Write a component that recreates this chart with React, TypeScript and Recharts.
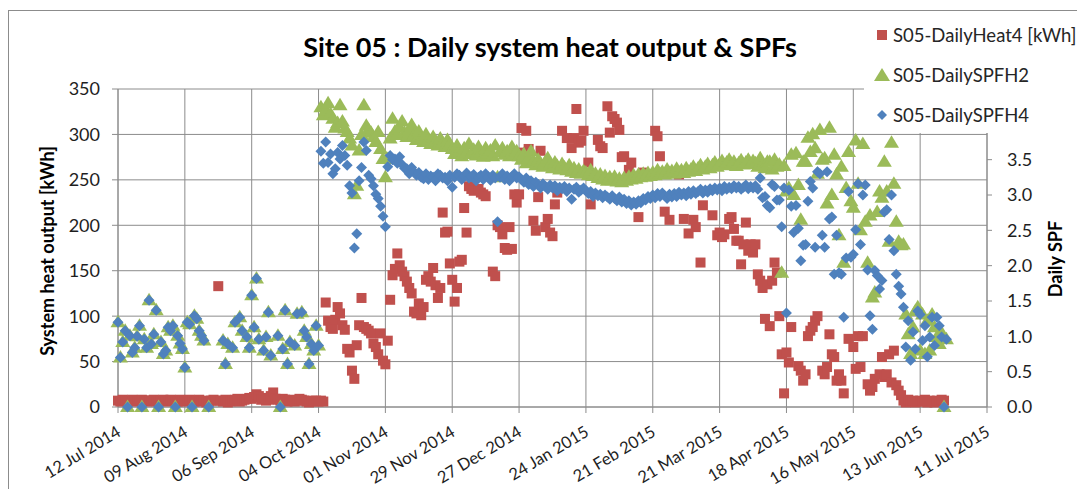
import { ScatterChart, Scatter, XAxis, YAxis, CartesianGrid } from "recharts";

const DAY = 86400000;
const START = Date.UTC(2014, 6, 12);
const _ = null;

const RED = "#C0504D";
const GREEN = "#9BBB59";
const BLUE = "#4F81BD";
const GRID = "#8c8c8c";
const TEXT = "#1e1e1e";
const FONT = "Lato, 'Open Sans', Arial, sans-serif";

const xTickLabels = [
  "12 Jul 2014", "09 Aug 2014", "06 Sep 2014", "04 Oct 2014", "01 Nov 2014",
  "29 Nov 2014", "27 Dec 2014", "24 Jan 2015", "21 Feb 2015", "21 Mar 2015",
  "18 Apr 2015", "16 May 2015", "13 Jun 2015", "11 Jul 2015",
];
const heatTicks = [0, 50, 100, 150, 200, 250, 300, 350];
const spfTicks = [0, 0.5, 1, 1.5, 2, 2.5, 3, 3.5, 4, 4.5];

// one value per day from 12 Jul 2014, one line per 28-day block
const dailyHeat4: (number | null)[] = [
  7, 6, 8, 7, 6, 7, 8, 7, 6, 7, 8, 7, 6, 7, 7, 8, 6, 7, 7, 8, 6, 7, 8, 7, 7, 6, 8, 7,
  6, 7, 8, 7, 6, 7, 8, 6, 7, 5, 6, 7, 8, 7, 133, 7, 6, 8, 5, 6, 7, 8, 9, 6, 7, 8, 9, 10,
  9, 11, 14, 12, 8, 10, 7, 8, 12, 16, 9, 8, 7, 9, 8, 6, 7, 8, 6, 7, 9, 8, 7, 6, 5, 7, 6, 7,
  6, 7, 6, 115, 95, 88, 86, 96, 110, 103, 90, 85, 64, 60, 40, 31, 68, 90, 120, 88, 86, 84, 81, 70, 66, 58, 81, 51,
  47, 73, 118, 145, 152, 169, 156, 149, 144, 138, 131, 125, 105, 103, 114, 101, 110, 140, 144, 138, 153, 134, 120, 131, 214, 192, 193, 158,
  140, 116, 131, 160, 162, 219, 192, 243, 240, 238, _, 240, 236, 234, 232, _, _, 149, 144, 200, 198, 190, 175, 173, 198, 174, 234, 225,
  234, 307, 280, 304, 284, _, 205, 194, 231, 282, _, 198, 207, 192, 188, 223, 236, _, 304, _, 296, _, 285, 296, 328, 291, 293, 304,
  _, 269, 223, _, _, 294, 287, 285, _, 331, 302, 320, 317, 313, 305, 275, 276, _, 261, 269, _, _, 209, _, 258, _, _, _,
  _, 304, 298, 276, _, 215, _, 206, _, _, _, 256, _, 207, _, 191, _, 206, 198, _, 159, 222, _, _, _, 211, _, 189,
  192, 187, 190, _, 207, 209, 196, 183, 183, 157, 179, 203, 172, 179, 170, 179, 146, 139, 131, 97, 135, 89, 139, 159, 148, 100, 58, 15,
  60, 49, 88, _, _, 45, 40, 29, 36, 78, 84, 88, 95, 100, _, 40, 36, 44, 80, 58, 55, 29, 36, 29, 15, _, 75, _,
  66, 42, 78, 44, 78, _, 25, 18, 22, 31, _, 36, 55, 33, 36, 58, 27, 62, 24, 18, 13, 7, 5, 8, 6, 7, 5, 6,
  7, 6, 8, 5, 7, 6, 5, 7, 6, 8, 7,
];

// summer days (12 Jul - 3 Oct 2014): both SPFs read the same
const summerSpf: (number | null)[] = [
  1.2, 0.7, 0.92, 1.08, 0, 1.01, 0.77, 0.84, 1.0, 1.15, 0, 0.96, 0.84, 1.51, 0.89, 1.03, 1.37, 0, 0.92, 0.75, 0.8, 1.13, 1.08, 1.15, 0, 1.01, 0.9, 0.82,
  0.56, 1.2, 1.17, 0, 1.29, 1.25, 1.08, 1.01, 0.94, _, 0, _, _, _, _, _, 0.94, 0.61, 0.89, _, 0.84, 1.2, _, 1.27, 1.08, _, 0.99, 0.84,
  1.58, 1.13, 1.82, 0.96, _, 0.8, 0.99, 1.34, 0.73, _, _, 1.01, 0, 0.82, 1.37, 0.61, 0.92, _, 0.87, 1.32, _, 1.34, 1.08, 0.99, 0.61, 0.89, 0.8, 1.15,
];

// from 4 Oct 2014
const dailySpfH2Rest: (number | null)[] = [
  0.87, 4.24, 4.13, 4.2, 4.3, 4.15, 4.08, 3.95, 4.02, 4.27, 4.04, 3.94, 3.89, 3.8, 3.7, 3.01, 3.13, 3.63, 3.85, 4.27, 3.98, 3.92, 3.88, 3.82, 3.75, 3.89, 3.65, 3.51,
  3.25, 3.51, 3.8, 4.08, 3.9, 3.85, 3.95, 4.04, 3.88, 3.82, 3.92, 3.99, 3.85, 3.78, 3.9, 3.8, 3.75, 3.86, 3.78, 3.72, 3.82, 3.76, 3.7, 3.8, 3.74, 3.68, 3.78, 3.72,
  3.65, 3.58, 3.7, 3.62, 3.55, 3.66, 3.6, 3.72, 3.58, 3.64, 3.56, 3.68, 3.6, 3.54, 3.66, 3.59, 3.63, 3.55, 3.7, 3.25, 3.6, 3.66, 3.57, 3.62, 3.55, 3.68, 3.58, 3.62,
  3.55, 3.5, 3.58, 3.45, 3.52, 3.62, 3.48, 3.42, 3.5, 3.45, 3.4, 3.47, 3.52, 3.43, 3.38, 3.46, 3.41, 3.36, 3.44, 3.39, 3.35, 3.42, 3.33, 3.38, 3.31, 3.36, 3.3, 3.34,
  3.32, 3.28, 3.35, 3.27, 3.3, 3.24, 3.29, 3.22, 3.27, 3.2, 3.25, 3.21, 3.26, 3.19, 3.23, 3.18, 3.24, 3.2, 3.26, 3.22, 3.28, 3.23, 3.29, 3.25, 3.3, 3.26, 3.31, 3.27,
  3.32, 3.28, 3.35, 3.3, 3.33, 3.29, 3.36, 3.31, 3.34, 3.3, 3.37, 3.32, 3.35, 3.31, 3.38, 3.33, 3.36, 3.4, 3.34, 3.38, 3.42, 3.36, 3.4, 3.44, 3.38, 3.42, 3.46, 3.4,
  3.44, 3.48, 3.42, 3.46, 3.5, 3.44, 3.47, 3.41, 3.45, 3.49, 3.43, 3.46, 3.5, 3.44, 3.48, 3.45, 3.4, 3.52, 3.43, 3.38, 3.47, 3.47, 3.36, 3.5, 3.4, 3.43, 1.9, 3.41,
  3.05, 3.1, 3.57, 3.0, 3.59, 3.14, 2.65, 3.47, 3.47, 3.81, 3.61, 3.86, 3.66, 3.3, 3.92, 3.5, 3.52, 2.88, 3.95, 3.0, 3.57, 3.29, 2.43, 3.4, 2.04, 3.1, 3.61, 2.91,
  2.82, 3.77, 3.16, 2.5, 3.72, 2.62, 2.04, 2.71, 1.55, 1.62, 2.76, 3.05, 2.96, 3.47, 3.05, 2.34, 3.74, 3.16, 2.62, 2.34, 2.29, 2.3, 1.31, 1.03, 0.75, 1.13, 1.36, 1.41,
  0.8, 1.31, 0.75, 1.22, 0.8, 1.31, 1.13, 0.99, 0.89, 1.05, 0, 0.96,
];

const dailySpfH4Rest: (number | null)[] = [
  0.87, 3.62, 3.45, 3.75, 3.46, 3.58, 3.3, 3.37, 3.6, 3.51, 3.7, 3.56, 3.42, 3.13, 3.03, 2.25, 2.45, 3.2, 3.39, 3.75, 3.63, 3.28, 3.23, 3.13, 3.01, 2.95, 2.84, 2.7,
  2.55, 3.4, 3.56, 3.5, 3.51, 3.45, 3.54, 3.43, 3.38, 3.37, 3.3, 3.39, 3.33, 3.28, 3.32, 3.25, 3.23, 3.3, 3.22, 3.27, 3.25, 3.2, 3.3, 3.28, 3.24, 3.25, 3.2, 3.28,
  3.11, 3.25, 3.3, 3.28, 3.22, 3.27, 3.31, 3.24, 3.26, 3.29, 3.2, 3.25, 3.28, 3.22, 3.3, 3.26, 3.21, 3.28, 3.24, 2.62, 3.25, 3.3, 3.22, 3.27, 3.2, 3.26, 3.3, 3.24,
  3.26, 3.22, 3.18, 3.24, 3.15, 3.2, 3.12, 3.18, 3.15, 3.1, 3.16, 3.12, 3.08, 3.14, 3.1, 3.13, 3.06, 3.11, 3.09, 3.12, 3.05, 3.1, 2.94, 3.08, 3.11, 3.04, 3.07, 3.1,
  3.06, 3.02, 3.05, 2.98, 3.03, 2.99, 3.01, 2.96, 3.0, 2.97, 2.94, 2.99, 2.95, 2.92, 2.97, 2.9, 2.94, 2.88, 2.92, 2.86, 2.9, 2.87, 2.92, 2.89, 2.95, 2.93, 2.98, 2.95,
  3.0, 2.96, 3.02, 2.98, 3.03, 2.99, 2.95, 3.01, 2.97, 3.02, 2.98, 3.04, 3.0, 3.03, 2.99, 3.05, 3.01, 3.06, 3.02, 3.05, 3.08, 3.03, 3.07, 3.04, 3.09, 3.06, 3.1, 3.07,
  3.1, 3.06, 3.12, 3.08, 3.11, 3.09, 3.13, 3.1, 3.12, 3.08, 3.11, 3.14, 3.09, 3.12, 3.1, 3.13, 3.08, 3.24, 2.96, 2.98, 2.85, 2.82, 3.15, 3.12, 2.93, 2.93, 2.55, 3.1,
  1.33, 3.07, 2.84, 2.47, 2.85, 2.53, 2.07, 2.29, 2.3, 2.91, 3.19, 3.1, 2.26, 3.33, 3.3, 2.43, 2.26, 3.33, 2.66, 2.69, 1.88, 2.43, 1.9, 1.88, 1.27, 2.11, 3.05, 2.12,
  2.16, 2.51, 3.16, 2.3, 3.0, 3.14, 1.94, 1.29, 1.1, 1.93, 1.86, 1.67, 1.79, 2.76, 2.79, 2.37, 3.0, 2.21, 1.88, 1.71, 1.6, 1.41, 0.85, 1.22, 0.66, 1.06, 0.82, 1.36,
  1.31, 0.94, 1.15, 0.71, 0.99, 1.27, 0.87, 1.27, 1.15, 0.99, 0, 0.96,
];

const toPoints = (vals: (number | null)[]) =>
  vals.flatMap((v, i) => (v === null ? [] : [{ t: START + i * DAY, v }]));

const heatData = toPoints(dailyHeat4);
const h2Data = toPoints([...summerSpf, ...dailySpfH2Rest]);
const h4Data = toPoints([...summerSpf, ...dailySpfH4Rest]);
const xTicks = xTickLabels.map((_l, i) => START + i * 28 * DAY);

function SquareDot(p: any) {
  if (p.cx == null || p.cy == null) return null;
  return <rect x={p.cx - 5} y={p.cy - 5} width={10} height={10} fill={RED} />;
}

function TriangleDot(p: any) {
  if (p.cx == null || p.cy == null) return null;
  const { cx, cy } = p;
  return <polygon points={`${cx},${cy - 7.5} ${cx + 7.5},${cy + 5} ${cx - 7.5},${cy + 5}`} fill={GREEN} />;
}

function DiamondDot(p: any) {
  if (p.cx == null || p.cy == null) return null;
  const { cx, cy } = p;
  return <polygon points={`${cx},${cy - 5.5} ${cx + 5.5},${cy} ${cx},${cy + 5.5} ${cx - 5.5},${cy}`} fill={BLUE} />;
}

function DateTick({ x, y, payload }: any) {
  const i = Math.round((payload.value - START) / (28 * DAY));
  const ax = x + 4;
  const ay = y + 20;
  return (
    <text x={ax} y={ay} textAnchor="end" fontSize={16.5} fontFamily={FONT} fill={TEXT}
      transform={`rotate(-31 ${ax} ${ay})`}>
      {xTickLabels[i]}
    </text>
  );
}

const tickFont = { fontSize: 18, fontFamily: FONT, fill: TEXT };

export default function App() {
  return (
    <div style={{ position: "relative", width: 1077, height: 481, overflow: "hidden", fontFamily: FONT }}>
      <div style={{ position: "absolute", left: 0, top: 2, width: 1200, height: 600,
        borderTop: `1px solid ${GRID}`, borderLeft: `1px solid ${GRID}` }} />
      <div style={{ position: "absolute", left: 0, top: 0 }}>
        <ScatterChart width={1077} height={481} margin={{ top: 81, right: 0, bottom: 0, left: 0 }}>
          <CartesianGrid yAxisId="heat" stroke={GRID} strokeWidth={1} />
          <XAxis
            dataKey="t"
            type="number"
            domain={[xTicks[0], xTicks[xTicks.length - 1]]}
            ticks={xTicks}
            interval={0}
            height={82}
            tickSize={6}
            stroke={GRID}
            tick={<DateTick />}
          />
          <YAxis
            yAxisId="heat"
            dataKey="v"
            type="number"
            domain={[0, 350]}
            ticks={heatTicks}
            interval={0}
            width={110}
            tickSize={6}
            tickMargin={12}
            stroke={GRID}
            tick={tickFont}
          />
          <YAxis
            yAxisId="spf"
            orientation="right"
            dataKey="v"
            type="number"
            domain={[0, 4.5]}
            ticks={spfTicks}
            interval={0}
            width={98}
            tickSize={5}
            tickMargin={15}
            stroke={GRID}
            tick={tickFont}
            // 4.0 and 4.5 sit behind the legend box in the original
            tickFormatter={(v: number) => (v >= 4 ? "" : v.toFixed(1))}
          />
          <Scatter yAxisId="heat" data={heatData} shape={SquareDot} isAnimationActive={false} />
          <Scatter yAxisId="spf" data={h2Data} shape={TriangleDot} isAnimationActive={false} />
          <Scatter yAxisId="spf" data={h4Data} shape={DiamondDot} isAnimationActive={false} />
        </ScatterChart>
      </div>

      <div style={{ position: "absolute", left: 542, top: 38, transform: "translate(-50%, -50%)",
        fontSize: 27, fontWeight: 700, color: "#000", whiteSpace: "nowrap" }}>
        Site 05 : Daily system heat output &amp; SPFs
      </div>
      <div style={{ position: "absolute", left: 39, top: 243, transform: "translate(-50%, -50%) rotate(-90deg)",
        fontSize: 18, fontWeight: 700, color: "#000", whiteSpace: "nowrap" }}>
        System heat output [kWh]
      </div>
      <div style={{ position: "absolute", left: 1047, top: 251, transform: "translate(-50%, -50%) rotate(-90deg)",
        fontSize: 18, fontWeight: 700, color: "#000", whiteSpace: "nowrap" }}>
        Daily SPF
      </div>

      <div style={{ position: "absolute", left: 856, top: 4, width: 221, height: 121, background: "#fff" }}>
        {[
          { name: "S05-DailyHeat4 [kWh]", y: 23, mark: <rect x={1} y={1} width={10} height={10} fill={RED} /> },
          { name: "S05-DailySPFH2", y: 63, mark: <polygon points="6,-1 14,12 -2,12" fill={GREEN} /> },
          { name: "S05-DailySPFH4", y: 103, mark: <polygon points="6,1 11,6 6,11 1,6" fill={BLUE} /> },
        ].map((e) => (
          <div key={e.name} style={{ position: "absolute", left: 12, top: e.y - 12, height: 24,
            display: "flex", alignItems: "center", whiteSpace: "nowrap" }}>
            <svg width={14} height={13} style={{ overflow: "visible", marginRight: 3 }}>{e.mark}</svg>
            <span style={{ fontSize: 18.5, color: "#262626" }}>{e.name}</span>
          </div>
        ))}
      </div>
    </div>
  );
}
